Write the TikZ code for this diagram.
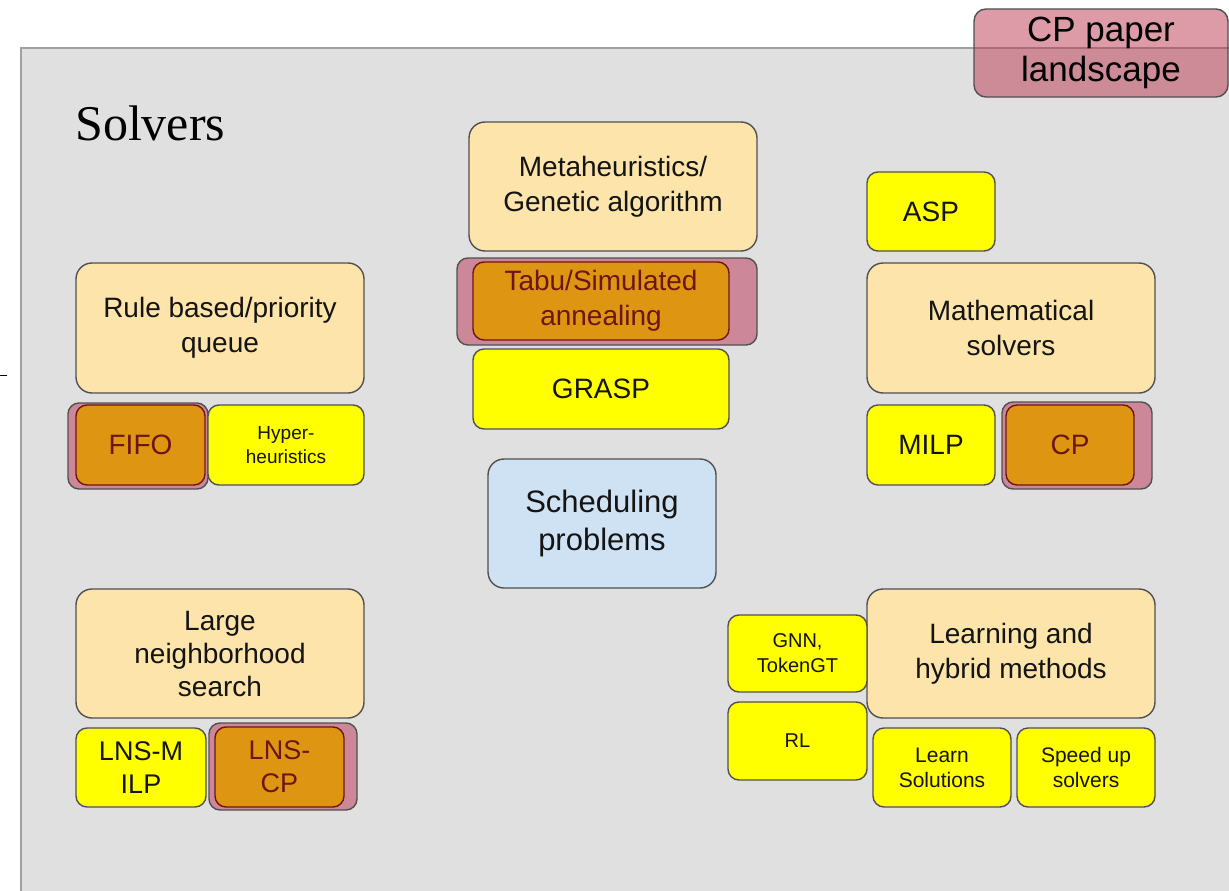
\documentclass[tikz,border=0pt]{standalone}
\usepackage{fontspec}
\setmainfont{Liberation Serif}
\setsansfont{Liberation Sans}
\begin{document}
\definecolor{panelfill}{RGB}{224,224,224}
\definecolor{panelline}{RGB}{160,160,160}
\definecolor{edge}{RGB}{80,80,80}
\definecolor{peach}{RGB}{252,228,170}
\definecolor{amber}{RGB}{222,150,18}
\definecolor{berry}{RGB}{110,20,20}
\definecolor{rose}{RGB}{204,136,153}
\definecolor{roseink}{RGB}{185,55,80}
\definecolor{lemon}{RGB}{255,255,0}
\definecolor{sky}{RGB}{207,226,243}
\begin{tikzpicture}[x=1pt,y=-1pt,
  card/.style={draw=edge, line width=1.4pt, rounded corners=16pt, inner sep=0pt,
    align=center, font=\sffamily\fontsize{28}{35}\selectfont, text=black!92},
  chip/.style={card, rounded corners=11pt},
  peachcard/.style={card, fill=peach},
  yellowchip/.style={chip, fill=lemon},
  halo/.style={chip, fill=rose},
  amberchip/.style={chip, fill=amber, draw=berry, text=berry}]
\useasboundingbox (0,0) rectangle (1229,891);
\clip (0,0) rectangle (1229,891);

% background panel
\draw[panelline, fill=panelfill, line width=1.3pt] (21,48) rectangle (1260,930);
\draw[black, line width=0.8pt] (0,375) -- (7,375);
\node[anchor=base west, inner sep=0pt, font=\rmfamily\fontsize{50}{56}\selectfont] (solvers) at (75,140) {Solvers};

% title tag
\node[card, rounded corners=12pt, fill=roseink, fill opacity=0.5, text opacity=1, text=black,
  minimum width=254pt, minimum height=88pt, font=\sffamily\fontsize{35}{40}\selectfont]
  (tag) at (1101,53) {CP paper\\landscape};

% metaheuristics
\node[peachcard, minimum width=288pt, minimum height=129pt] (meta) at (613,186.5) {Metaheuristics/\\Genetic algorithm};
\node[halo, minimum width=300pt, minimum height=87pt] (tabuhalo) at (607,301.5) {};
\node[amberchip, minimum width=256pt, minimum height=78pt] (tabu) at (601,301) {Tabu/Simulated\\annealing};
\node[yellowchip, minimum width=256pt, minimum height=80pt] (grasp) at (601,389) {GRASP};

% centre
\node[card, fill=sky, minimum width=228pt, minimum height=129pt, font=\sffamily\fontsize{31}{38}\selectfont] (sched) at (602,523.5) {Scheduling\\problems};

% rule based
\node[peachcard, minimum width=288pt, minimum height=130pt] (rule) at (220,328) {Rule based/priority\\queue};
\node[halo, minimum width=140pt, minimum height=86pt] (fifohalo) at (138,446) {};
\node[amberchip, minimum width=129pt, minimum height=80pt] (fifo) at (140.5,445) {FIFO};
\node[yellowchip, minimum width=156pt, minimum height=80pt, font=\sffamily\fontsize{19}{24}\selectfont] (hyper) at (286,445) {Hyper-\\heuristics};

% mathematical solvers
\node[yellowchip, minimum width=128pt, minimum height=79pt] (asp) at (931,211.5) {ASP};
\node[peachcard, minimum width=288pt, minimum height=130pt] (math) at (1011,328) {Mathematical\\solvers};
\node[yellowchip, minimum width=128pt, minimum height=80pt] (milp) at (931,445) {MILP};
\node[halo, minimum width=150pt, minimum height=87pt] (cphalo) at (1077,445.5) {};
\node[amberchip, minimum width=128pt, minimum height=80pt] (cp) at (1070,445) {CP};

% large neighborhood search
\node[peachcard, minimum width=288pt, minimum height=129pt, font=\sffamily\fontsize{28}{33}\selectfont] (lns) at (220,653.5) {Large\\neighborhood\\search};
\node[yellowchip, minimum width=130pt, minimum height=79pt, font=\sffamily\fontsize{27}{33}\selectfont] (lnsmilp) at (141,767.5) {LNS-M\\ILP};
\node[halo, minimum width=148pt, minimum height=87pt] (lnscphalo) at (283,766.5) {};
\node[amberchip, minimum width=129pt, minimum height=80pt, font=\sffamily\fontsize{27}{33}\selectfont] (lnscp) at (279.5,767) {LNS-\\CP};

% learning and hybrid
\node[peachcard, minimum width=288pt, minimum height=129pt] (learn) at (1011,653.5) {Learning and\\hybrid methods};
\node[yellowchip, minimum width=139pt, minimum height=77pt, font=\sffamily\fontsize{20}{25}\selectfont] (gnn) at (797.5,653.5) {GNN,\\TokenGT};
\node[yellowchip, minimum width=139pt, minimum height=78pt, font=\sffamily\fontsize{20}{25}\selectfont] (rl) at (797.5,741) {RL};
\node[yellowchip, minimum width=138pt, minimum height=79pt, font=\sffamily\fontsize{21}{25}\selectfont] (learnsol) at (942,767.5) {Learn\\Solutions};
\node[yellowchip, minimum width=138pt, minimum height=79pt, font=\sffamily\fontsize{21}{25}\selectfont] (speed) at (1086,767.5) {Speed up\\solvers};
\end{tikzpicture}
\end{document}
